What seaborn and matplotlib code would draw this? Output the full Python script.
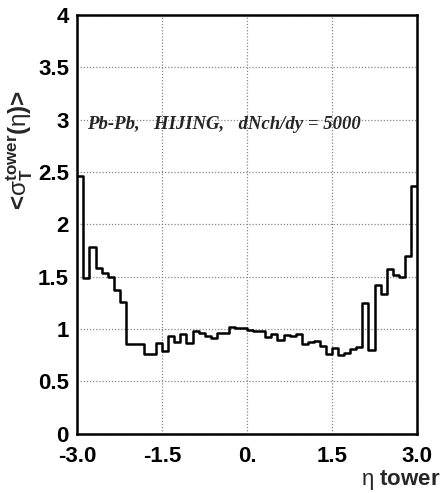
import numpy as np
import pandas as pd
import seaborn as sns
import matplotlib
matplotlib.use("Agg")
import matplotlib.pyplot as plt
from matplotlib.ticker import FixedLocator, MultipleLocator

# ---- data ----
eta_min, eta_max, n_bins = -3.0, 3.0, 56
sigma_tower = [
    2.46, 1.49, 1.78, 1.585, 1.535, 1.495, 1.375, 1.255, 0.86, 0.86,
    0.86, 0.765, 0.765, 0.87, 0.79, 0.93, 0.88, 0.95, 0.87, 0.985,
    0.96, 0.93, 0.91, 0.965, 0.965, 1.02, 1.005, 1.005, 0.995, 0.98,
    0.985, 0.92, 0.955, 0.895, 0.94, 0.93, 0.955, 0.86, 0.88, 0.89,
    0.84, 0.765, 0.82, 0.755, 0.775, 0.81, 0.825, 1.25, 0.795, 1.425,
    1.33, 1.575, 1.52, 1.495, 1.70, 2.37,
]
x_ticks = [-3.0, -1.5, 0.0, 1.5, 3.0]
x_ticklabels = ["-3.0", "-1.5", "0.", "1.5", "3.0"]
y_ticks = [0, 0.5, 1, 1.5, 2, 2.5, 3, 3.5, 4]
y_ticklabels = ["0", "0.5", "1", "1.5", "2", "2.5", "3", "3.5", "4"]
label_text = "Pb-Pb,   HIJING,   dNch/dy = 5000"

edges = np.linspace(eta_min, eta_max, n_bins + 1)
centers = 0.5 * (edges[:-1] + edges[1:])
df = pd.DataFrame({"eta": centers, "sigma": sigma_tower})

# ---- style ----
sns.set_style("white")
plt.rcParams["font.family"] = ["Liberation Sans", "DejaVu Sans"]
plt.rcParams["mathtext.fontset"] = "custom"
plt.rcParams["mathtext.rm"] = "Liberation Sans"
plt.rcParams["mathtext.bf"] = "Liberation Sans:bold"
plt.rcParams["mathtext.it"] = "Liberation Sans:italic"

fig = plt.figure(figsize=(4.43, 4.93), dpi=100)
ax = fig.add_axes([0.1745, 0.1203, 0.9413 - 0.1745, 0.9696 - 0.1203])

sns.histplot(data=df, x="eta", weights="sigma", bins=n_bins,
             binrange=(eta_min, eta_max), element="step",
             fill=False, color="black", linewidth=1.8, ax=ax)

ax.set_xlim(eta_min, eta_max)
ax.set_ylim(0, 4)

ax.xaxis.set_major_locator(FixedLocator(x_ticks))
ax.set_xticklabels(x_ticklabels)
ax.xaxis.set_minor_locator(MultipleLocator(0.3))
ax.yaxis.set_major_locator(FixedLocator(y_ticks))
ax.set_yticklabels(y_ticklabels)
ax.yaxis.set_minor_locator(MultipleLocator(0.1))

ax.tick_params(axis="both", which="major", direction="in", length=7, width=1.2,
               labelsize=16, colors="black")
ax.tick_params(axis="both", which="minor", direction="in", length=4, width=1.0)
ax.tick_params(axis="x", which="major", pad=9)
ax.tick_params(axis="y", which="major", pad=6)
ax.tick_params(top=False, right=False, which="both")
for lab in ax.get_xticklabels() + ax.get_yticklabels():
    lab.set_fontweight("bold")

ax.grid(True, which="major", linestyle=(0, (1, 1.5)), color="#888888", linewidth=0.9)
ax.set_axisbelow(True)

for sp in ax.spines.values():
    sp.set_color("black")
    sp.set_linewidth(1.8)

ax.set_xlabel("")
ax.set_ylabel("")

fig.text(0.045, 0.696,
         r"<$\mathrm{σ}_{\mathbf{T}}^{\mathbf{tower}}$($\mathrm{η}$)>",
         rotation=90, ha="center", va="center", fontsize=17.5, weight="bold")
fig.text(0.995, 0.026, r"$\mathrm{η}$ tower", ha="right", va="center",
         fontsize=16, weight="bold")

ax.text(-2.83, 2.95, label_text, ha="left", va="center",
        family=["Liberation Serif", "DejaVu Serif"], weight="bold",
        style="italic", fontsize=13.5)

fig.savefig("out.png", dpi=100)
